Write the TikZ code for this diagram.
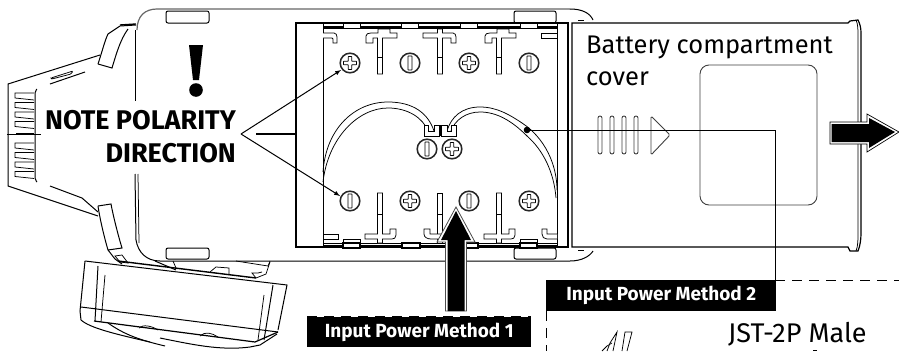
\documentclass[tikz,border=0pt]{standalone}
\usepackage{fontspec}
\setmainfont{Fira Sans}
\tikzset{
  ln/.style={line width=1pt,black},
  thin ln/.style={line width=.75pt,black},
  gry/.style={line width=.9pt,black!75},
  lab/.style={fill=black,text=white,font=\bfseries\fontsize{19}{21}\selectfont,inner sep=0pt},
  screw/.pic={\draw[line width=1.5pt,black!85,fill=white] (0,0) circle (9.8);},
  plusmark/.pic={\draw[line width=.75pt,black,fill=white,rounded corners=.4pt]
     (-1.8,-6.5)--(1.8,-6.5)--(1.8,-1.8)--(6.5,-1.8)--(6.5,1.8)--(1.8,1.8)--(1.8,6.5)--(-1.8,6.5)--(-1.8,1.8)--(-6.5,1.8)--(-6.5,-1.8)--(-1.8,-1.8)--cycle;},
  minusmark/.pic={\draw[line width=.75pt,black,fill=white,rounded corners=.4pt] (-2,-7) rectangle (2,7);},
}
\begin{document}
\begin{tikzpicture}[x=1pt,y=-1pt]
\useasboundingbox (0,0) rectangle (899,351);
% --- named anchor points
\coordinate (fan) at (241,134);
\coordinate (sTop) at (341,70);
\coordinate (sBot) at (340,196);
\coordinate (wire) at (527,130);
\coordinate (elbow) at (775,130);
\coordinate (corner2) at (775,280);
% --- body outline
\draw[line width=1.2pt,black!60] (137,30) .. controls (137,16) and (145,9) .. (157,9) -- (570,9);
\draw[ln] (570,9) .. controls (582,9) and (590,13) .. (593,20);
\draw[ln] (136,240) .. controls (138,252) and (146,261) .. (160,261) -- (570,261) .. controls (582,261) and (590,256) .. (593,251);
\draw[ln] (135,30) -- (135,101);
\draw[ln] (135,174) -- (136,240);
\draw[thin ln] (138,174) -- (139,243);
% --- left part
\draw[ln] (100,55) -- (8,84) -- (8,186) -- (98,216);
\draw[ln] (50,84) -- (85,72);
\draw[thin ln,rounded corners=1pt] (51,78) -- (73,71) -- (71,74) -- (52,79) -- cycle;
\draw[ln] (50,186) -- (82,198) -- (98,212);
\draw[ln,rounded corners=2pt] (37,89) -- (35,91) -- (35,180) -- (37,182);
\draw[ln] (7,134) -- (41,134);
\draw[line width=1.8pt] (16,134) -- (34,134);
\foreach \y in {93,102.5,112,121.5,143,152.5,162,171.5} {
  \draw[thin ln] (34,\y) -- (15,\y) -- (15,\y+5) -- (34,\y+7);
}
% upper clip
\draw[ln] (98,64) .. controls (102,52) and (105,40) .. (108,34) -- (120,26) -- (136,25);
\draw[ln] (98,64) -- (112,68) .. controls (116,55) and (120,40) .. (128,29);
\draw[line width=1.4pt] (120,25) -- (136,24);
% lower clip
\draw[ln] (98,206) -- (111,204) .. controls (113,215) and (118,235) .. (122,248) -- (108,250);
\draw[ln] (98,206) .. controls (100,220) and (105,240) .. (108,250) -- (115,259) -- (122,264);
\draw[thin ln] (115,256) -- (122,255) -- (128,263) -- (120,262) -- cycle;
% --- bottom module
\draw[line width=1.4pt] (118,261) -- (256,278);
\draw[ln] (155,261) -- (176,270);
\draw[thin ln] (173,261) -- (176,268);
\draw[thin ln] (210,272) -- (216,267) -- (229,268) -- (229,275);
\draw[thin ln] (236,261) -- (268,266) -- (270,261);
\draw[thin ln] (270,262) -- (266,274) -- (256,278) -- (252,273) -- (258,273) -- (262,272);
\draw[ln] (85,261) -- (287,285) -- (278,330);
\draw[ln] (85,261) -- (80,311) -- (81,320);
\draw[ln] (81,307) -- (278,332);
\draw[ln] (98,266) -- (95,321);
\draw[thin ln] (105,275) -- (101,322);
\draw[ln] (273,285) -- (264,340);
\draw[thin ln] (264,295) -- (258,340);
\draw[line width=1.2pt] (94,321) -- (255,342) -- (278,332);
\draw[ln] (81,320) .. controls (90,328) and (115,334) .. (150,342);
\draw[ln] (108,323) .. controls (125,335) and (140,340) .. (165,346);
\draw[ln] (160,338) .. controls (190,344) and (220,351) .. (250,347) -- (260,345) -- (277,334);
\draw[thin ln] (139,328) .. controls (143,324) and (152,326) .. (158,330);
\draw[thin ln] (200,336) .. controls (205,331) and (212,333) .. (218,337);
% --- exclamation
\fill (189,45) -- (203,45) -- (199,80) -- (193,80) -- cycle;
\fill (196,90) circle (6.8);
% --- tabs
\draw[ln,rounded corners=2pt,fill=white] (166,11) rectangle (209,23);
\draw[ln,rounded corners=2pt,fill=white] (166,248) rectangle (209,259);
\draw[ln,rounded corners=2pt,fill=white] (514,11) rectangle (556,23);
\draw[ln,rounded corners=2pt,fill=white] (514,248) rectangle (556,259);
% --- compartment
\draw[line width=1.2pt,fill=white] (296,23) rectangle (568,247);
\draw[ln] (323,23) -- (323,247);
\draw[line width=1.2pt] (256,134) -- (296,134);
\draw[thin ln] (557,23) -- (557,247);
% top strip
\draw[thin ln] (323,26) -- (557,26);
\foreach \a/\b in {343/360,401/418,460/477,520/537} {
  \draw[thin ln,fill=white] (\a,23) rectangle (\b,28);
}
\foreach \a/\b in {323/343,360/401,418/460,477/520,537/557} {
  \draw[line width=1.2pt] (\a,28) -- (\b,28);
}
% bottom strip
\draw[thin ln] (323,243) -- (557,243);
\draw[thin ln] (323,245) -- (557,245);
\foreach \a/\b in {343/360,402/420,461/478,520/537} {
  \draw[line width=1.2pt,fill=white] (\a,243) rectangle (\b,248);
}
\draw[thin ln] (343,239) rectangle (360,243);
\draw[thin ln] (520,239) rectangle (537,243);
% top clips
\draw[thin ln,fill=white] (323,33) -- (334,33) .. controls (336,33) and (337,35) .. (337,37) -- (337,43) -- (333,43) -- (333,39) -- (332,38) -- (323,38);
\foreach \x in {380,499} {
 \draw[thin ln,fill=white] (\x-2.5,74) -- (\x-2.5,38) -- (\x-7,38) -- (\x-7,43) -- (\x-14,43) -- (\x-14,36) .. controls (\x-14,34) and (\x-12,33) .. (\x-9,33) -- (\x-2,33) -- (\x-2,29) -- (\x+10,29) -- (\x+10,33) -- (\x+17,33) -- (\x+17,38) -- (\x+2.5,38) -- (\x+2.5,74) -- cycle;
}
\draw[thin ln,fill=white] (437.5,74) -- (437.5,38) -- (423,38) -- (423,33) -- (437.5,33) -- (437.5,29) -- (442.5,29) -- (442.5,33) -- (453,33) .. controls (455,33) and (456,35) .. (456,37) -- (456,43) -- (451,43) -- (451,38) -- (442.5,38) -- (442.5,74) -- cycle;
\draw[thin ln,fill=white] (541,33) rectangle (557,38);
\foreach \x in {380,440,499} \draw[thin ln] (\x-2.5,57) -- (\x+2.5,57);
% bottom clips
\draw[thin ln,fill=white] (323,234) rectangle (338,239);
\foreach \x in {380,499} {
 \draw[thin ln,fill=white] (\x-2.5,193) -- (\x+2.5,193) -- (\x+2.5,234) -- (\x+10,234) -- (\x+10,229) -- (\x+16,229) -- (\x+16,235) .. controls (\x+16,238) and (\x+14,239) .. (\x+12,239) -- (\x+2.5,239) -- (\x+2.5,243) -- (\x-2.5,243) -- (\x-2.5,239) -- (\x-15,239) -- (\x-15,234) -- (\x-2.5,234) -- cycle;
}
\draw[thin ln,fill=white] (437.5,193) rectangle (442.5,243);
\draw[thin ln,fill=white] (442.5,239) -- (431,239) .. controls (427,239) and (424,237) .. (424,234) -- (424,229) -- (430,229) -- (430,234) -- (442.5,234);
\draw[thin ln,fill=white] (557,239) -- (547,239) .. controls (544,239) and (542,237) .. (542,234) -- (542,229) -- (547,229) -- (547,234) -- (557,234);
\foreach \x in {380,440,499} \draw[thin ln] (\x-2.5,214) -- (\x+2.5,214);
% wires
\draw[thin ln] (323,172) .. controls (326,128) and (355,102) .. (388,102) .. controls (413,102) and (428,113) .. (434,131);
\draw[thin ln] (323,182) .. controls (328,138) and (358,108) .. (388,108) .. controls (408,108) and (423,118) .. (428,131);
\draw[thin ln] (447,131) .. controls (451,117) and (462,107) .. (480,107) .. controls (497,107) and (510,115) .. (522,123);
\draw[thin ln] (451,131) .. controls (455,120) and (466,112) .. (480,112) .. controls (497,112) and (512,121) .. (527,136);
\draw[thin ln] (527,136) .. controls (543,150) and (554,172) .. (556,198);
\draw[thin ln] (522,123) .. controls (545,138) and (557,165) .. (557,190);
% connector
\draw[thin ln,fill=white] (424,125) -- (428,125) -- (428,131) -- (434,131) -- (434,125) -- (439,125) -- (439,136) -- (424,136) -- cycle;
\draw[thin ln,fill=white] (441,125) -- (447,125) -- (447,131) -- (451,131) -- (451,125) -- (456,125) -- (456,136) -- (441,136) -- cycle;
\draw[line width=1.2pt] (440,125) -- (440,136);
% screws
\foreach \x/\y/\m in {350/63/plus,410/63/minus,469/63/plus,529/63/minus,350/201/minus,410/201/plus,469/201/minus,529/201/plus,427/149/minus,452/149/plus} {
  \pic at (\x,\y) {screw};
  \pic at (\x,\y) {\m mark};
}
% --- cover
\draw[line width=1.2pt,fill=white] (572,23) -- (848,23) -- (850,21) -- (858,20) .. controls (860,24) and (861,28) .. (861,33) -- (861,233) .. controls (861,240) and (860,246) .. (858,251) -- (850,251) -- (848,247) -- (572,247) -- cycle;
\draw[thin ln] (856,20) .. controls (858,24) and (858,30) .. (858,36) -- (858,233) .. controls (858,240) and (858,246) .. (856,251);
\draw[thin ln] (578,20) -- (584,20);
\draw[thin ln] (578,250) -- (584,250);
\draw[gry,rounded corners=9pt] (700,65) rectangle (817,205);
\foreach \x in {600,612,624,636} {
  \draw[gry,rounded corners=2pt] (\x-2,116) rectangle (\x+2,154);
}
\draw[gry,rounded corners=1.5pt,fill=white] (651,116) -- (670,135) -- (651,155) -- cycle;
% --- arrows
\draw[line width=.7pt,black,fill=white] (830,122) -- (867,122) -- (867,114) -- (899,132) -- (867,152) -- (867,144) -- (830,144) -- cycle;
\fill (831.5,124) -- (869,124) -- (869,118) -- (895,132) -- (869,148) -- (869,142) -- (831.5,142) -- cycle;
\draw[line width=.8pt,black!70,fill=white] (445.5,311) -- (445.5,242) -- (437,242) -- (456,207) -- (475,242) -- (466.5,242) -- (466.5,311) -- cycle;
\fill (447.5,311) -- (447.5,240) -- (441,240) -- (456,211) -- (471,240) -- (464.5,240) -- (464.5,311) -- cycle;
% --- connectors
\draw[-latex,ln] (fan) -- (sTop);
\draw[-latex,ln] (fan) -- (sBot);
\fill (wire) circle (3.3);
\draw[ln] (wire) -- (elbow) -- (corner2);
\draw[ln,dash pattern=on 10pt off 7pt] (corner2) -- (899,280);
\draw[ln,dash pattern=on 10pt off 7pt] (546,311) -- (546,351);
% --- labels
\node[lab,minimum width=230pt,minimum height=31pt,anchor=north west] (m2) at (546,280) {Input Power Method 2};
\node[lab,minimum width=224pt,minimum height=30pt,anchor=north west] (m1) at (307,317) {Input Power Method 1};
\draw[line width=1.2pt,dash pattern=on 10pt off 7pt] (307,316.4) -- (531,316.4);
\node[anchor=base east,font=\bfseries\fontsize{27}{30}\selectfont,inner sep=0pt] (n1) at (236,129) {NOTE POLARITY};
\node[anchor=base east,font=\bfseries\fontsize{27}{30}\selectfont,inner sep=0pt] (n2) at (236,162) {DIRECTION};
\node[anchor=base west,font=\fontsize{25.5}{28}\selectfont,inner sep=0pt] (b1) at (586,53) {Battery compartment};
\node[anchor=base west,font=\fontsize{25.5}{28}\selectfont,inner sep=0pt] (b2) at (586,85) {cover};
\node[anchor=base west,font=\fontsize{27}{28}\selectfont,inner sep=0pt] (j) at (728,342) {JST-2P Male};
% --- JST connector fragment
\draw[thin ln] (607,351) -- (610,343) -- (617,332) -- (613,351);
\draw[thin ln] (622,351) -- (625,332) -- (632,332) -- (627,351);
\draw[thin ln] (602,351) -- (607,346) -- (612,343);
\draw[thin ln] (813,350) -- (817,350);
\end{tikzpicture}
\end{document}
